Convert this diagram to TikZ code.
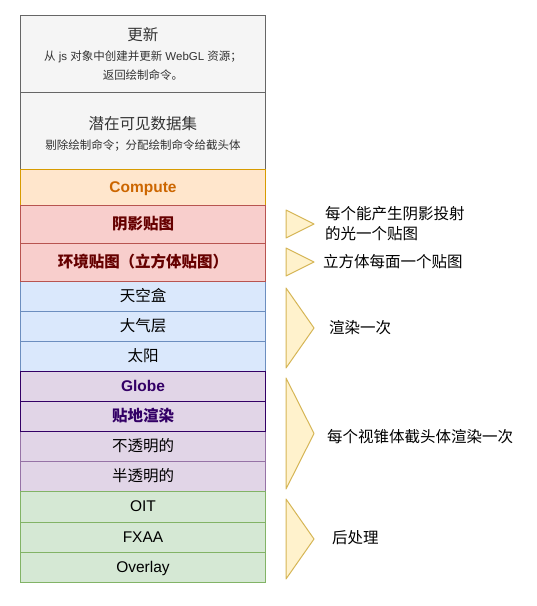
\documentclass[tikz,border=0pt]{standalone}
\usepackage{fontspec}
\setmainfont{Liberation Sans}
\newfontfamily\cjk{Noto Sans CJK SC}
\usetikzlibrary{positioning}
\definecolor{grayfill}{HTML}{F5F5F5}
\definecolor{grayline}{HTML}{666666}
\definecolor{graytext}{HTML}{333333}
\definecolor{orangefill}{HTML}{FFE6CC}
\definecolor{orangeline}{HTML}{D79B00}
\definecolor{orangetext}{HTML}{CC6600}
\definecolor{redfill}{HTML}{F8CECC}
\definecolor{redline}{HTML}{B85450}
\definecolor{redtext}{HTML}{660000}
\definecolor{bluefill}{HTML}{DAE8FC}
\definecolor{blueline}{HTML}{6C8EBF}
\definecolor{purplefill}{HTML}{E1D5E7}
\definecolor{purpleline}{HTML}{9673A6}
\definecolor{darkpurple}{HTML}{330066}
\definecolor{greenfill}{HTML}{D5E8D4}
\definecolor{greenline}{HTML}{82B366}
\definecolor{notefill}{HTML}{FFF2CC}
\definecolor{noteline}{HTML}{D6B656}
\tikzset{
  box/.style={draw, line width=1pt, minimum width=245pt, inner sep=0pt,
              outer sep=0pt, align=center, font=\fontsize{15.5}{19}\selectfont},
  graybox/.style={box, fill=grayfill, draw=grayline, text=graytext},
  orangebox/.style={box, fill=orangefill, draw=orangeline, text=orangetext,
                    text depth=0pt, font=\fontsize{15.5}{19}\selectfont\bfseries},
  redbox/.style={box, fill=redfill, draw=redline, text=redtext,
                 font=\fontsize{15.5}{19}\selectfont\bfseries\cjk},
  bluebox/.style={box, fill=bluefill, draw=blueline, font=\fontsize{15.5}{19}\selectfont\cjk},
  purplebox/.style={box, fill=purplefill, draw=purpleline, font=\fontsize{15.5}{19}\selectfont\cjk},
  darkbox/.style={box, fill=purplefill, draw=darkpurple, text=darkpurple,
                  font=\fontsize{15.5}{19}\selectfont\bfseries},
  greenbox/.style={box, fill=greenfill, draw=greenline},
  tri/.style={fill=notefill, draw=noteline, line width=1pt, line join=round},
  note/.style={anchor=west, align=left, inner sep=0pt,
               font=\fontsize{15.5}{20}\selectfont\cjk}
}
\begin{document}
\begin{tikzpicture}[x=1pt,y=-1pt]
  \useasboundingbox[fill=white] (0,0) rectangle (537,606);

  % stacked stages
  \node[graybox, minimum height=77pt] (update) at (143,53.5)
     {{\cjk 更新}\\[1pt]
      {\fontsize{11.5}{18}\selectfont {\cjk 从} js {\cjk 对象中创建并更新} WebGL {\cjk 资源；}}\\
      {\fontsize{11.5}{18}\selectfont\cjk 返回绘制命令。}};
  \node[graybox, minimum height=77pt] (pvs) at (143,130.5)
     {{\cjk 潜在可见数据集}\rule{0pt}{19pt}\\[1pt]
      {\fontsize{11.5}{18}\selectfont\cjk 剔除绘制命令；分配绘制命令给截头体}};
  \node[orangebox, minimum height=36pt] (compute) at (143,187) {Compute};

  \node[bluebox, minimum height=30pt] (sky) at (143,296) {天空盒};
  \node[bluebox, minimum height=30pt] (atmos) at (143,326) {大气层};
  \node[bluebox, minimum height=30pt] (sun) at (143,356) {太阳};
  \node[redbox, minimum height=38pt] (shadow) at (143,224) {阴影贴图};
  \node[redbox, minimum height=38pt] (envmap) at (143,262) {环境贴图（立方体贴图）};

  \node[purplebox, minimum height=30pt] (opaque) at (143,446) {不透明的};
  \node[purplebox, minimum height=30pt] (transl) at (143,476) {半透明的};
  \node[darkbox, minimum height=30pt] (globe) at (143,386) {Globe};
  \node[darkbox, minimum height=30pt, font=\fontsize{15.5}{19}\selectfont\bfseries\cjk] (ground) at (143,416) {贴地渲染};

  \node[greenbox, minimum height=31pt] (oit) at (143,506.5) {OIT};
  \node[greenbox, minimum height=30pt] (fxaa) at (143,537) {FXAA};
  \node[greenbox, minimum height=30pt, text depth=1pt] (overlay) at (143,567) {Overlay};

  % notes on the right
  \draw[tri] (286,210) -- (314,224) -- (286,238) -- cycle;
  \draw[tri] (286,248) -- (314,262) -- (286,276) -- cycle;
  \draw[tri] (286,288) -- (314,328) -- (286,368) -- cycle;
  \draw[tri] (286,378) -- (314,433.5) -- (286,489) -- cycle;
  \draw[tri] (286,499) -- (314,539) -- (286,579) -- cycle;

  \node[note] (shadownote) at (325,224) {每个能产生阴影投射\\的光一个贴图};
  \node[note] (envnote) at (323,262) {立方体每面一个贴图};
  \node[note] (skynote) at (329,328) {渲染一次};
  \node[note] (frustumnote) at (327,437) {每个视锥体截头体渲染一次};
  \node[note] (postnote) at (332,538) {后处理};
\end{tikzpicture}
\end{document}
